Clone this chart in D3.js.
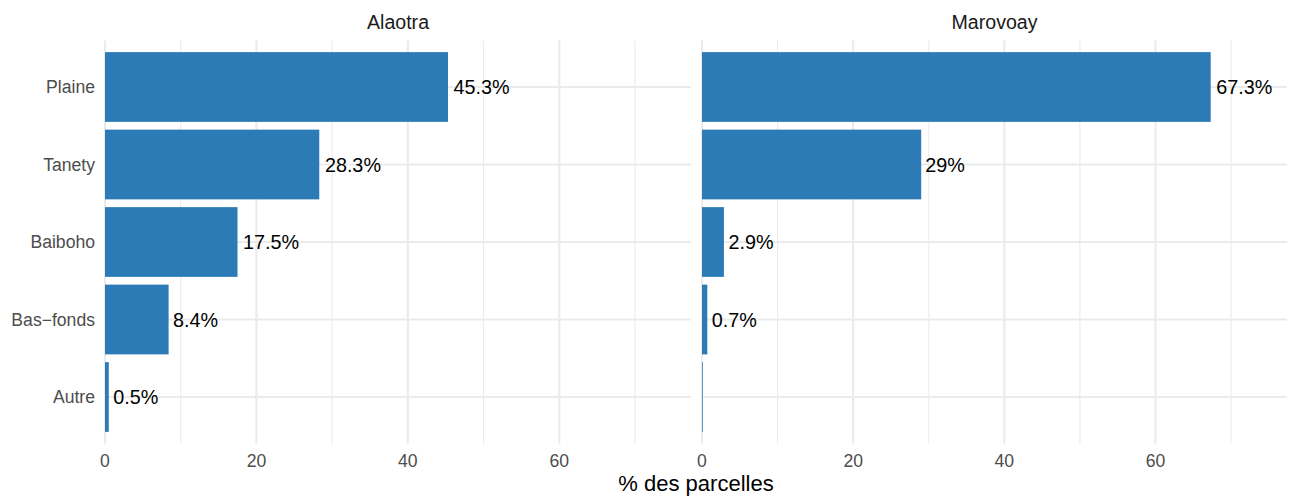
<!DOCTYPE html>
<html><head><meta charset="utf-8">
<script src="https://cdn.jsdelivr.net/npm/d3@7"></script>
<style>body{margin:0;background:#fff}svg{display:block}text{font-family:"Liberation Sans",Arial,sans-serif}</style>
</head><body><svg id="c" width="1289" height="500"></svg>
<script>
const categories = ["Plaine","Tanety","Baiboho","Bas−fonds","Autre"];
const panels = ["Alaotra","Marovoay"];
const alaotraValues = [45.3, 28.3, 17.5, 8.4, 0.5];
const alaotraLabels = ["45.3%","28.3%","17.5%","8.4%","0.5%"];
const marovoayValues = [67.3, 29, 2.9, 0.7, 0.1];
const marovoayLabels = ["67.3%","29%","2.9%","0.7%",""];
const xTicks = [0,20,40,60];
const xMinor = [10,30,50,70];
const xTitle = "% des parcelles";

const svg = d3.select("#c");
const panelTop = 40.5, panelBottom = 443.5;
const panelBox = [[105, 691], [702, 1287]];
const allVals = alaotraValues.concat(marovoayValues);
const xMax = d3.max(allVals) * 1.15;
const data = [
  {name: panels[0], values: alaotraValues, labels: alaotraLabels},
  {name: panels[1], values: marovoayValues, labels: marovoayLabels}
];
// ggplot discrete: centers with 0.6 expansion
const yc = d3.scalePoint().domain(categories).range([panelTop, panelBottom]).padding(0.6);
const step = yc.step();
const barH = step * 0.9;

data.forEach((p, i) => {
  const [x0, x1] = panelBox[i];
  const x = d3.scaleLinear().domain([0, xMax]).range([x0, x1]);
  const g = svg.append("g");
  g.selectAll(".mi").data(xMinor).join("line")
    .attr("x1", d => x(d)).attr("x2", d => x(d)).attr("y1", panelTop).attr("y2", panelBottom)
    .attr("stroke", "#EBEBEB").attr("stroke-width", 1.1);
  g.selectAll(".ma").data(xTicks).join("line")
    .attr("x1", d => x(d)).attr("x2", d => x(d)).attr("y1", panelTop).attr("y2", panelBottom)
    .attr("stroke", "#EBEBEB").attr("stroke-width", 2.1);
  g.selectAll(".hy").data(categories).join("line")
    .attr("x1", x0).attr("x2", x1).attr("y1", d => yc(d)).attr("y2", d => yc(d))
    .attr("stroke", "#EBEBEB").attr("stroke-width", 2.1);
  g.selectAll(".bar").data(p.values).join("rect")
    .attr("x", x(0)).attr("y", (d, j) => yc(categories[j]) - barH/2)
    .attr("width", d => x(d) - x(0)).attr("height", barH)
    .attr("fill", "#2C7BB6");
  g.selectAll(".lab").data(p.values).join("text")
    .attr("x", d => x(d)).attr("y", (d, j) => yc(categories[j]))
    .attr("dy", "0.36em").attr("font-size", "19.8px").attr("fill", "#000")
    .text((d, j) => p.labels[j])
    .each(function() { const w = this.getComputedTextLength(); d3.select(this).attr("x", +d3.select(this).attr("x") + w*0.1); });
  g.selectAll(".xt").data(xTicks).join("text")
    .attr("x", d => x(d)).attr("y", 467).attr("text-anchor", "middle")
    .attr("font-size", "17.6px").attr("fill", "#4D4D4D").text(d => d);
  g.append("text").attr("x", (x0 + x1)/2).attr("y", 29.3).attr("text-anchor", "middle")
    .attr("font-size", "19.6px").attr("fill", "#1A1A1A").text(p.name);
});
svg.selectAll(".yl").data(categories).join("text")
  .attr("x", 95).attr("y", d => yc(d)).attr("dy", "0.36em").attr("text-anchor", "end")
  .attr("font-size", "17.6px").attr("fill", "#4D4D4D").text(d => d);
svg.append("text").attr("x", (105 + 1287)/2).attr("y", 491).attr("text-anchor", "middle")
  .attr("font-size", "22px").attr("fill", "#000").text(xTitle);
</script></body></html>
